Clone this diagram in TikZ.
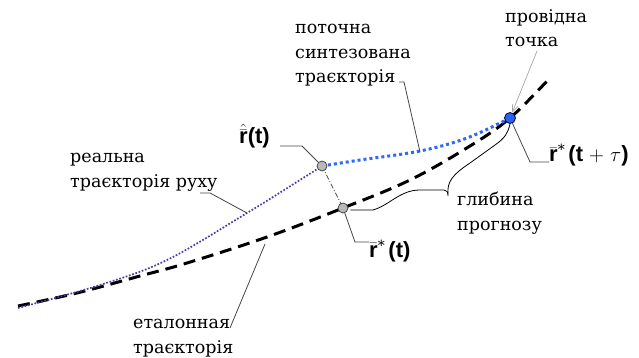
\documentclass[tikz,border=0pt]{standalone}
\usepackage{fontspec}
\setmainfont{DejaVu Serif}
\newfontfamily\labfont{Liberation Sans}
\usetikzlibrary{arrows.meta}

\definecolor{realblue}{RGB}{70,60,170}
\definecolor{synblue}{RGB}{45,105,250}
\definecolor{ptblue}{RGB}{40,100,240}
\definecolor{ptgray}{RGB}{185,185,185}
\definecolor{leadgray}{RGB}{70,70,70}

\newcommand{\astsup}{{\normalfont\fontsize{14}{14}\selectfont\raisebox{7pt}{*}}}

\tikzset{
  txt/.style={font=\fontsize{17.5}{24.5}\selectfont, align=left, inner sep=0pt, anchor=base west},
  mlab/.style={font=\labfont\bfseries\fontsize{22}{26}\selectfont, inner sep=0pt, anchor=base west},
  leader/.style={draw=leadgray, line width=0.8pt},
  graypt/.style={circle, draw=gray!55!black, fill=ptgray, minimum size=10pt, inner sep=0pt, line width=0.8pt},
  bluept/.style={circle, draw=blue!25!black, fill=ptblue, minimum size=11pt, inner sep=0pt, line width=0.8pt},
  etalon/.style={line width=3pt, dash pattern=on 12pt off 7pt},
  realtraj/.style={draw=realblue, line width=1.7pt, dash pattern=on 1.7pt off 1.7pt},
  syntraj/.style={draw=synblue, line width=3pt, dash pattern=on 3pt off 3pt},
  brace/.style={draw=black, line width=0.8pt},
}

\begin{document}
\begin{tikzpicture}[x=1pt,y=-1pt]
\useasboundingbox (0,0) rectangle (639,358);

% key points
\coordinate (E0) at (18,306);
\coordinate (R0) at (18,308);
\coordinate (Hc) at (322,166);
\coordinate (Sc) at (343,208);
\coordinate (Pc) at (510,118);
\coordinate (Eend) at (548,80);

% trajectories
\draw[etalon] plot[smooth, tension=0.6] coordinates {(E0) (77,293) (140,276) (187,263) (267,237) (Sc) (410,180) (470,146) (Pc) (Eend)};
\draw[realtraj] plot[smooth, tension=0.6] coordinates {(R0) (100,285) (167,260) (247,213) (300,180) (Hc)};
\draw[syntraj] plot[smooth, tension=0.6] coordinates {(Hc) (360,160) (420,151) (467,138) (Pc)};

% link between current points
\draw[draw=gray!60!black, line width=0.8pt, dash pattern=on 5pt off 2pt on 1pt off 2pt] (Hc) -- (Sc);

% points
\node[graypt] (H) at (Hc) {};
\node[graypt] (S) at (Sc) {};
\node[bluept] (P) at (Pc) {};

% text labels (anchor = baseline of last line)
\node[txt] (Lsyn) at (295,83) {поточна\\синтезована\\траєкторія};
\node[txt] (Llead) at (505,47) {провідна\\точка};
\node[txt] (Lreal) at (70,187) {реальна\\траєкторія руху};
\node[txt] (Let) at (133,353) {еталонная\\траєкторія};
\node[txt] (Ldepth) at (457,230) {глибина\\прогнозу};

% math labels
\node[mlab] (Lh) at (239,144) {$\hat{\bar{\hbox{r}}}$(t)};
\node[mlab] (Ls) at (369,257) {$\bar{\hbox{r}}$\astsup\,(t)};
\node[mlab] (Lp) at (549,162) {$\bar{\hbox{r}}$\astsup\,(t\;$+$\;$\tau$)};

% leader lines
\coordinate (q1) at (420,152);
\coordinate (q2) at (247,213);
\coordinate (q3) at (265,244);
\coordinate (a1) at (200,193);
\coordinate (a2) at (230,328);
\coordinate (a3) at (399,82);
\coordinate (a4) at (280,146);
\draw[leader] (a3) -- ++(5,0) -- (q1);
\draw[leader] (a1) -- ++(10,0) -- (q2);
\draw[leader] (a2) -- (q3);
\draw[leader] (a4) -- ++(22,0) -- (H);
\draw[leader] (S) -- (355,242) -- (Ls.west |- 0,242);
\draw[leader] (P) -- (530,162) -- (Lp.base west);
\coordinate (a5) at (537,51);
\draw[draw=gray!70, line width=0.7pt, -{Straight Barb[length=7pt,width=6pt]}] (a5) -- (P);

% depth brace
\draw[brace] (S.east) ++(2,2) -- (373,210) .. controls (390,205) and (400,190) .. (420,190) -- (444,190) .. controls (447,190) and (448,192) .. (448,196);
\draw[brace] (448,194) .. controls (447,182) and (452,175) .. (470,163) -- (495,145) .. controls (505,138) and (508,133) .. (P.south);
\end{tikzpicture}
\end{document}
